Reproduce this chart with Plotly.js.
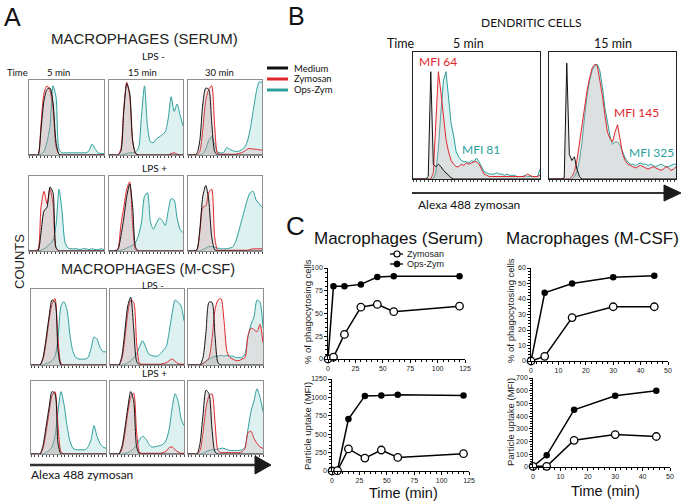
<!DOCTYPE html>
<html><head><meta charset="utf-8">
<script src="https://cdn.plot.ly/plotly-3.0.1.min.js"></script>
<style>html,body{margin:0;padding:0;background:#fff}#chart{width:683px;height:501px}</style>
</head><body><div id="chart"></div>
<script>
// ---------- Panel A/B histogram bins (relative fluorescence, 0-100) ----------
const histBins = [0,4,8,12,16,20,24,28,32,36,40,44,48,52,56,60,64,68,72,76,80,84,88,92,96,100];
const dcBins = [0,2,4,6,8,10,12,14,16,18,20,22,24,26,28,30,32,34,36,38,40,42,44,46,48,50,52,54,56,58,60,62,64,66,68,70,72,74,76,78,80,82,84,86,88,90,92,94,96,98,100];

// Macrophages (serum), LPS -
const serumNeg5Medium  = [0,0,0,0,35,75,90,92,72,18,1,0,0,0,0,0,0,0,0,0,0,0,0,0,0,0];
const serumNeg5Zymosan = [0,0,0,0,42,85,95,88,65,12,1,0,0,0,0,0,0,0,0,0,0,0,0,0,0,0];
const serumNeg5OpsZym  = [0,0,0,0,1,5,18,40,95,80,8,3,3,3,3,3,3,3,3,3,6,15,9,3,2,2];
const serumNeg15Medium  = [0,0,0,0,5,60,98,85,20,2,0,0,0,0,0,0,0,0,0,0,0,0,0,0,0,0];
const serumNeg15Zymosan = [0,0,0,0,8,65,100,80,18,2,0,0,0,0,0,0,0,0,0,0,0,2,3,1,0,0];
const serumNeg15OpsZym  = [0,0,0,0,0,1,2,3,3,4,10,55,95,40,18,17,22,25,28,32,50,80,60,70,55,40];
const serumNeg30Medium  = [0,0,0,2,20,70,92,90,45,5,0,0,0,0,0,0,0,0,0,0,0,0,0,0,0,0];
const serumNeg30Zymosan = [0,0,0,0,5,35,75,90,95,40,2,1,1,1,1,1,1,2,3,5,8,9,8,8,7,7];
const serumNeg30OpsZym  = [0,0,0,0,0,2,8,20,25,15,4,3,3,10,8,6,5,5,7,10,18,35,60,85,100,100];
// Macrophages (serum), LPS +
const serumPos5Medium  = [0,0,0,0,25,55,60,88,80,5,0,0,0,0,0,0,0,0,0,0,0,0,0,0,0,0];
const serumPos5Zymosan = [0,0,0,2,60,82,65,85,65,4,0,0,0,0,0,0,0,0,0,0,0,0,0,0,0,0];
const serumPos5OpsZym  = [0,0,0,0,1,3,6,10,15,35,85,55,12,4,3,3,3,2,3,3,2,3,2,2,3,2];
const serumPos15Medium  = [0,0,0,2,20,45,75,92,60,5,0,0,0,0,0,0,0,0,0,0,0,0,0,0,0,0];
const serumPos15Zymosan = [0,0,0,3,35,60,85,95,35,2,0,0,0,0,0,0,0,0,0,0,0,0,0,0,0,0];
const serumPos15OpsZym  = [0,0,0,0,1,2,4,6,8,12,22,40,75,80,40,30,38,45,42,35,55,72,70,45,30,25];
const serumPos30Medium  = [0,0,0,2,30,75,90,70,20,2,0,0,0,0,0,0,0,0,0,0,0,0,0,0,0,0];
const serumPos30Zymosan = [0,0,0,1,25,60,62,80,85,20,1,1,1,1,1,1,1,1,1,1,1,2,3,3,3,3];
const serumPos30OpsZym  = [0,0,0,0,0,2,4,6,6,5,4,3,3,3,4,5,12,25,40,55,70,80,82,70,65,60];
// Macrophages (M-CSF), LPS -
const mcsfNeg5Medium  = [0,0,0,0,10,35,65,88,85,20,0,0,0,0,0,0,0,0,0,0,0,0,0,0,0,0];
const mcsfNeg5Zymosan = [0,0,0,0,8,30,60,82,90,35,2,0,0,0,0,0,0,0,0,0,0,0,0,0,0,0];
const mcsfNeg5OpsZym  = [0,0,0,0,0,2,3,6,12,35,80,86,75,40,18,10,8,8,8,10,22,38,35,24,18,18];
const mcsfNeg15Medium  = [0,0,0,0,12,45,80,92,50,5,0,0,0,0,0,0,0,0,0,0,0,0,0,0,0,0];
const mcsfNeg15Zymosan = [0,0,0,0,8,35,70,88,85,30,2,1,1,1,1,1,1,1,2,3,6,8,5,2,1,1];
const mcsfNeg15OpsZym  = [0,0,0,0,0,1,3,6,10,15,25,33,25,15,13,12,12,15,20,25,45,70,88,85,80,60];
const mcsfNeg30Medium  = [0,0,0,0,0,10,45,85,85,40,3,0,0,0,0,0,0,0,0,0,0,0,0,0,0,0];
const mcsfNeg30Zymosan = [0,0,0,0,0,2,5,10,35,75,88,90,60,18,10,8,6,6,8,10,40,50,48,45,55,30];
const mcsfNeg30OpsZym  = [0,0,0,0,0,2,5,8,10,12,12,13,12,13,12,12,10,10,10,15,38,55,65,88,85,50];
// Macrophages (M-CSF), LPS +
const mcsfPos5Medium  = [0,0,0,0,12,38,65,88,85,15,0,0,0,0,0,0,0,0,0,0,0,0,0,0,0,0];
const mcsfPos5Zymosan = [0,0,0,0,8,30,58,82,88,40,3,0,0,0,0,0,0,0,0,0,0,0,0,0,0,0];
const mcsfPos5OpsZym  = [0,0,0,0,0,2,5,10,25,60,88,70,40,18,8,6,6,6,6,10,20,40,25,15,10,8];
const mcsfPos15Medium  = [0,0,0,0,10,35,65,88,75,10,0,0,0,0,0,0,0,0,0,0,0,0,0,0,0,0];
const mcsfPos15Zymosan = [0,0,0,0,6,28,58,80,86,30,2,1,1,1,1,1,1,1,2,4,9,10,6,3,1,1];
const mcsfPos15OpsZym  = [0,0,0,0,0,1,2,4,8,12,20,25,22,15,10,10,11,12,14,20,35,65,85,75,50,40];
const mcsfPos30Medium  = [0,0,0,0,15,55,90,85,35,3,0,0,0,0,0,0,0,0,0,0,0,0,0,0,0,0];
const mcsfPos30Zymosan = [0,0,0,0,5,30,65,82,85,45,5,2,2,2,2,2,2,2,3,8,30,32,22,15,10,8];
const mcsfPos30OpsZym  = [0,0,0,0,0,1,3,5,6,6,7,8,8,6,5,5,5,5,6,10,35,60,75,92,80,60];

// Dendritic cells
const dc5Medium  = [0,0,0,0,0,0,2,87,12,10,12,10,7,5,3,1,0,0,0,0,0,0,0,0,0,0,0,0,0,0,0,0,0,0,0,0,0,0,0,0,0,0,0,0,0,0,0,0,0,0,0];
const dc5Zymosan = [0,0,0,0,0,0,0,0,5,50,87,70,50,32,22,15,12,10,10,12,11,13,12,13,14,14,12,8,4,3,2,2,2,2,2,2,2,2,2,2,2,2,2,2,2,4,3,2,2,2,3];
const dc5OpsZym  = [0,0,0,0,0,0,0,0,0,5,25,55,80,87,65,45,35,22,18,15,14,14,13,15,14,17,14,10,6,5,4,4,4,5,4,4,3,4,3,3,3,2,2,2,3,2,2,2,2,2,8];
const dc15Medium  = [0,0,0,0,0,0,1,94,20,15,18,8,2,0,0,0,0,0,0,0,0,0,0,0,0,0,0,0,0,0,0,0,0,0,0,0,0,0,0,0,0,0,0,0,0,0,0,0,0,0,0];
const dc15Zymosan = [0,0,0,0,0,0,0,0,0,2,6,15,30,45,60,72,82,90,93,92,80,68,52,38,33,30,38,44,32,20,15,12,11,10,9,10,11,10,9,8,9,10,9,8,7,8,10,9,7,8,10];
const dc15OpsZym  = [0,0,0,0,0,0,0,0,0,0,2,6,15,30,50,68,80,88,92,93,88,75,58,45,35,28,30,30,27,22,17,14,12,12,11,12,13,12,12,11,12,11,10,11,12,11,10,10,11,12,12];
const dcMfiLabels = ['MFI 64','MFI 81','MFI 145','MFI 325'];

// ---------- Panel C: kinetics ----------
const serumTime = [0,5,15,30,45,60,120];
const serumPctZymosan = [0,2,27,57,60,52,58];
const serumPctOpsZym  = [0,80,80,82,90,91,91];
const serumMfiZymosan = [0,5,300,175,285,185,235];
const serumMfiOpsZym  = [0,10,705,1020,1025,1035,1025];
const mcsfTime = [0,5,15,30,45];
const mcsfPctZymosan = [0,3,28,35,35];
const mcsfPctOpsZym  = [0,44,50,54,55];
const mcsfMfiZymosan = [5,5,210,255,240];
const mcsfMfiOpsZym  = [5,92,450,560,600];

// ---------- layout helpers ----------
const W = 683, H = 501;
const px = x => x / W, py = y => 1 - y / H;
const RED = '#e0262d', TEAL = '#2c9f9c';
const SANS = 'Liberation Sans, Arial, sans-serif';
const MYR = 'Lato, Open Sans, sans-serif';
const traces = [];
const layout = {width: W, height: H, margin: {l:0, r:0, t:0, b:0}, showlegend: false,
  paper_bgcolor: '#fff', plot_bgcolor: 'rgba(0,0,0,0)', shapes: [], annotations: []};
let axN = 0;
function addAxes(box, xopt, yopt) {
  axN++;
  const s = axN === 1 ? '' : String(axN);
  layout['xaxis' + s] = Object.assign({domain: [px(box[0]), px(box[1])], anchor: 'y' + s,
    showgrid: false, zeroline: false, fixedrange: true}, xopt);
  layout['yaxis' + s] = Object.assign({domain: [py(box[3]), py(box[2])], anchor: 'x' + s,
    showgrid: false, zeroline: false, fixedrange: true}, yopt);
  return ['x' + s, 'y' + s];
}
function histPanel(box, bins, med, zym, ops, dc) {
  const frame = dc ? '#222' : '#8f8f8f';
  const [xr, yr] = addAxes(box,
    {range: [0, 100], showline: true, mirror: true, linecolor: frame, linewidth: 1,
     ticks: 'outside', ticklen: 2, tickcolor: '#444', dtick: dc ? 3 : 5, showticklabels: false},
    {range: [0, 103], showline: true, mirror: true, linecolor: frame, linewidth: 1,
     ticks: '', showticklabels: false});
  const shape = dc ? 'linear' : 'spline';
  const common = {x: bins, xaxis: xr, yaxis: yr, type: 'scatter', mode: 'lines', fill: 'tozeroy', hoverinfo: 'skip'};
  traces.push(Object.assign({}, common, {y: ops, line: {color: TEAL, width: 1, shape: shape, smoothing: 0.7}, fillcolor: 'rgba(160,215,215,0.35)'}));
  traces.push(Object.assign({}, common, {y: zym, line: {color: RED, width: 1, shape: shape, smoothing: 0.7}, fillcolor: 'rgba(215,175,175,0.25)'}));
  traces.push(Object.assign({}, common, {y: med, line: {color: '#111', width: 1, shape: shape, smoothing: 0.7}, fillcolor: 'rgba(140,140,140,0.22)'}));
}
function ann(text, x, y, size, extra) {
  layout.annotations.push(Object.assign({text: text, x: px(x), y: py(y), xref: 'paper', yref: 'paper',
    showarrow: false, xanchor: 'center', yanchor: 'middle', borderpad: 0,
    font: {size: size, family: MYR, color: '#111'}}, extra || {}));
}
function line(x0, y0, x1, y1, color, width) {
  layout.shapes.push({type: 'line', xref: 'paper', yref: 'paper', x0: px(x0), y0: py(y0), x1: px(x1), y1: py(y1),
    line: {color: color, width: width}});
}
function tri(xa, yt, xb, yb) {
  const ym = (yt + yb) / 2;
  layout.shapes.push({type: 'path', xref: 'paper', yref: 'paper',
    path: `M ${px(xa)} ${py(yt)} L ${px(xb)} ${py(ym)} L ${px(xa)} ${py(yb)} Z`,
    fillcolor: '#1a1a1a', line: {color: '#1a1a1a', width: 1}});
}

// ---------- Panel A ----------
const colsTop = [[29,104],[109,183],[188,262]];
const colsBot = [[31,106],[110,184],[188,263]];
const rowsY = [[80,155],[176,251],[289,365],[381,454]];
const panelA = [
  [serumNeg5Medium, serumNeg5Zymosan, serumNeg5OpsZym],
  [serumNeg15Medium, serumNeg15Zymosan, serumNeg15OpsZym],
  [serumNeg30Medium, serumNeg30Zymosan, serumNeg30OpsZym],
  [serumPos5Medium, serumPos5Zymosan, serumPos5OpsZym],
  [serumPos15Medium, serumPos15Zymosan, serumPos15OpsZym],
  [serumPos30Medium, serumPos30Zymosan, serumPos30OpsZym],
  [mcsfNeg5Medium, mcsfNeg5Zymosan, mcsfNeg5OpsZym],
  [mcsfNeg15Medium, mcsfNeg15Zymosan, mcsfNeg15OpsZym],
  [mcsfNeg30Medium, mcsfNeg30Zymosan, mcsfNeg30OpsZym],
  [mcsfPos5Medium, mcsfPos5Zymosan, mcsfPos5OpsZym],
  [mcsfPos15Medium, mcsfPos15Zymosan, mcsfPos15OpsZym],
  [mcsfPos30Medium, mcsfPos30Zymosan, mcsfPos30OpsZym]
];
panelA.forEach((p, i) => {
  const r = Math.floor(i / 3), c = i % 3;
  const cx = r < 2 ? colsTop[c] : colsBot[c];
  histPanel([cx[0], cx[1], rowsY[r][0], rowsY[r][1]], histBins, p[0], p[1], p[2], false);
});

// ---------- Panel B ----------
histPanel([413, 540, 52, 179], dcBins, dc5Medium, dc5Zymosan, dc5OpsZym, true);
histPanel([549, 676, 52, 179], dcBins, dc15Medium, dc15Zymosan, dc15OpsZym, true);

// ---------- Panel C ----------
const tickF = {size: 7, family: SANS, color: '#222'};
function kinAxes(box, xr, xd, xm, yr, yd, ym) {
  return addAxes(box,
    {range: xr, dtick: xd, showline: true, linecolor: '#000', linewidth: 1.3, ticks: 'outside', ticklen: 2.5,
     tickwidth: 1, tickcolor: '#000', tickfont: tickF, minor: {ticks: 'outside', ticklen: 2, dtick: xm, tickcolor: '#000'}},
    {range: yr, dtick: yd, showline: true, linecolor: '#000', linewidth: 1.3, ticks: 'outside', ticklen: 2.5,
     tickwidth: 1, tickcolor: '#000', tickfont: tickF, minor: {ticks: 'outside', ticklen: 2, dtick: ym, tickcolor: '#000'}});
}
function kinTraces(ax, t, zym, ops) {
  const base = {x: t, xaxis: ax[0], yaxis: ax[1], type: 'scatter', mode: 'lines+markers', cliponaxis: false, hoverinfo: 'skip'};
  traces.push(Object.assign({}, base, {y: ops, line: {color: '#000', width: 1.5},
    marker: {symbol: 'circle', size: 6.5, color: '#000'}}));
  traces.push(Object.assign({}, base, {y: zym, line: {color: '#000', width: 1.5},
    marker: {symbol: 'circle', size: 7.5, color: '#fff', line: {color: '#000', width: 1.3}}}));
}
const c1 = kinAxes([328, 465, 268, 359], [0, 125], 25, 5, [0, 100], 25, 5);
kinTraces(c1, serumTime, serumPctZymosan, serumPctOpsZym);
const c2 = kinAxes([332, 469, 379, 471], [0, 125], 25, 5, [0, 1250], 250, 50);
kinTraces(c2, serumTime, serumMfiZymosan, serumMfiOpsZym);
const c3 = kinAxes([531, 668, 268, 361], [0, 50], 10, 2, [0, 60], 10, 2);
kinTraces(c3, mcsfTime, mcsfPctZymosan, mcsfPctOpsZym);
const c4 = kinAxes([533, 670, 378, 467], [0, 50], 10, 2, [0, 700], 100, 20);
kinTraces(c4, mcsfTime, mcsfMfiZymosan, mcsfMfiOpsZym);

// ---------- texts ----------
ann('A', 12, 17, 25, {font: {size: 25, family: SANS, color: '#111'}});
ann('B', 296, 16, 25, {font: {size: 25, family: SANS, color: '#111'}});
ann('C', 295, 226, 26, {font: {size: 26, family: SANS, color: '#111'}});
ann('MACROPHAGES (SERUM)', 144, 38, 15, {font: {size: 15, family: SANS, color: '#222'}});
ann('LPS -', 153, 56, 10);
ann('Time', 17, 72, 9.5);
ann('5 min', 58, 72, 9.5);
ann('15 min', 142, 72, 9.5);
ann('30 min', 219, 72, 9.5);
ann('LPS +', 154, 168, 10);
ann('MACROPHAGES (M-CSF)', 148, 269, 14.5, {font: {size: 14.5, family: SANS, color: '#222'}});
ann('LPS -', 153, 285, 9.5);
ann('LPS +', 154, 373, 10);
ann('COUNTS', 19, 262, 13, {textangle: -90, font: {size: 13, family: SANS, color: '#222'}});
ann('Alexa 488 zymosan', 30, 474, 12, {xanchor: 'left'});
// legend A
[['Medium', '#111', 68], ['Zymosan', RED, 79], ['Ops-Zym', TEAL, 90]].forEach(l => {
  line(267, l[2], 288, l[2], l[1], 3);
  ann(l[0], 293, l[2], 9.5, {xanchor: 'left'});
});
// arrows
line(30, 465, 258, 465, '#333', 2.5);
tri(255, 456, 271, 474);
line(412, 193, 666, 193, '#333', 2);
tri(664, 185, 681, 201);
// panel B texts
ann('DENDRITIC CELLS', 531, 23, 12);
ann('Time', 401, 43, 12.5);
ann('5 min', 468, 43, 12.5);
ann('15 min', 613, 43, 12.5);
ann(dcMfiLabels[0], 438, 62, 12, {font: {size: 12, family: MYR, color: RED}});
ann(dcMfiLabels[1], 481, 149, 12, {font: {size: 12, family: MYR, color: TEAL}});
ann(dcMfiLabels[2], 636, 113, 12, {font: {size: 12, family: MYR, color: RED}});
ann(dcMfiLabels[3], 651, 152, 12, {font: {size: 12, family: MYR, color: TEAL}});
ann('Alexa 488 zymosan', 469, 205, 12);
// panel C texts
ann('Macrophages (Serum)', 398, 238, 17, {font: {size: 17, family: SANS, color: '#111'}});
ann('Macrophages (M-CSF)', 592, 238, 17, {font: {size: 17, family: SANS, color: '#111'}});
const ytF = {size: 9.5, family: SANS, color: '#222'};
ann('% of phagocytosing cells', 307, 312, 9.5, {textangle: -90, font: ytF});
ann('Particle uptake (MFI)', 307, 426, 9.5, {textangle: -90, font: ytF});
ann('% of phagocytosing cells', 510, 311, 9.5, {textangle: -90, font: ytF});
ann('Particle uptake (MFI)', 510, 422, 9.5, {textangle: -90, font: ytF});
ann('Time (min)', 403, 493, 14.5, {font: {size: 14.5, family: SANS, color: '#111'}});
ann('Time (min)', 605, 491, 14.5, {font: {size: 14.5, family: SANS, color: '#111'}});
// legend C
line(390, 254, 403, 254, '#000', 1.3);
line(390, 264, 403, 264, '#000', 1.3);
layout.shapes.push({type: 'circle', xref: 'paper', yref: 'paper', x0: px(394), x1: px(400), y0: py(257), y1: py(251),
  fillcolor: '#fff', line: {color: '#000', width: 1.2}});
layout.shapes.push({type: 'circle', xref: 'paper', yref: 'paper', x0: px(394), x1: px(400), y0: py(267), y1: py(261),
  fillcolor: '#000', line: {color: '#000', width: 1}});
ann('Zymosan', 406, 254, 9, {xanchor: 'left', font: {size: 9, family: SANS, color: '#222'}});
ann('Ops-Zym', 406, 264, 9, {xanchor: 'left', font: {size: 9, family: SANS, color: '#222'}});

Plotly.newPlot('chart', traces, layout, {staticPlot: true, displayModeBar: false});
</script>
</body></html>
